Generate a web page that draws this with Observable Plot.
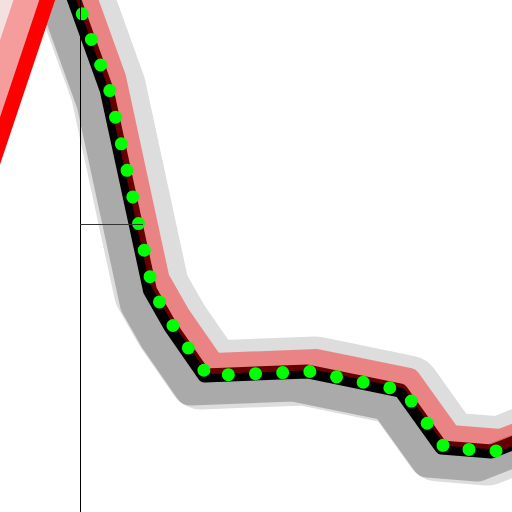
<!DOCTYPE html>
<html>
<head>
<meta charset="utf-8">
<script src="https://cdn.jsdelivr.net/npm/d3@7"></script>
<script src="https://cdn.jsdelivr.net/npm/@observablehq/plot@0.6"></script>
<style>
  html, body { margin: 0; padding: 0; background: #fff; overflow: hidden; }
  svg { overflow: hidden; display: block; }
</style>
</head>
<body>
<div id="chart"></div>
<script>
// Main (black) series
const mainX = [11.27, 20.74, 29.20, 33.20, 39.84, 59.96, 78.18, 86.13, 95.90, 104.88];
const mainY = [108.79, 82.50, 43.36, 36.33, 26.76, 27.54, 23.81, 12.70, 11.91, 15.43];
// Red series
const redX = [12.03, -4.00];
const redY = [108.79, 60.94];
// Rules
const ruleXValues = [15.625];
const ruleYValues = [56.25];
const ruleYStart = [15.625];
const ruleYEnd = [27.93];

const main = mainX.map((x, i) => ({x, y: mainY[i]}));
const red = redX.map((x, i) => ({x, y: redY[i]}));
const ruleYData = ruleYValues.map((y, i) => ({y, x1: ruleYStart[i], x2: ruleYEnd[i]}));

const chart = Plot.plot({
  width: 512,
  height: 512,
  margin: 0,
  x: {domain: [0, 100], axis: null},
  y: {domain: [0, 100], axis: null},
  marks: [
    Plot.line(main, {x: "x", y: "y", stroke: "#ddd", strokeWidth: 62, dx: 8, dy: -4}),
    Plot.line(main, {x: "x", y: "y", stroke: "#ddd", strokeWidth: 64, dx: -4, dy: 2}),
    Plot.line(main, {x: "x", y: "y", stroke: "#aaa", strokeWidth: 32, dx: -14, dy: 14}),
    Plot.line(red, {x: "x", y: "y", stroke: "#f5e0e0", strokeWidth: 40, dx: -30}),
    Plot.line(red, {x: "x", y: "y", stroke: "#f59d9d", strokeWidth: 26, dx: -20}),
    Plot.line(red, {x: "x", y: "y", stroke: "red", strokeWidth: 15}),
    Plot.line(main, {x: "x", y: "y", stroke: "black", strokeWidth: 14}),
    Plot.line(main, {x: "x", y: "y", stroke: "red", strokeOpacity: 0.4, strokeWidth: 21, dx: 9, dy: -12}),
    Plot.line(main, {x: "x", y: "y", stroke: "lime", strokeWidth: 13, dx: 3, strokeDasharray: "0 27.2", strokeDashoffset: 19.6}),
    Plot.ruleX(ruleXValues, {stroke: "black"}),
    Plot.ruleY(ruleYData, {y: "y", x1: "x1", x2: "x2", stroke: "#333"})
  ]
});
document.getElementById("chart").appendChild(chart);
</script>
</body>
</html>
